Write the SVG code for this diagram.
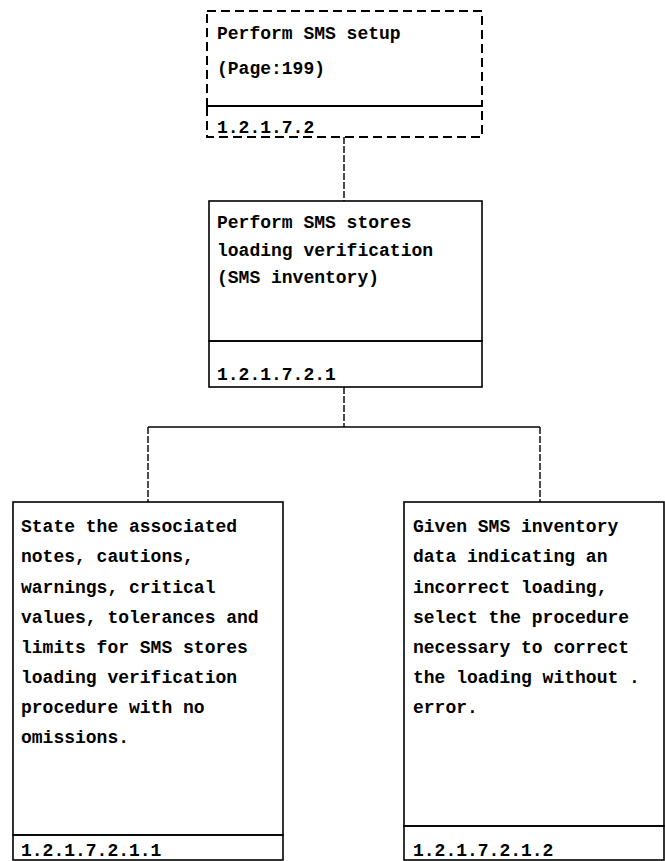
<svg xmlns="http://www.w3.org/2000/svg" width="665" height="861" viewBox="0 0 665 861">
<style>
.bg{fill:#ffffff}
.box{fill:none;stroke:#000;stroke-width:1.6}
.dash{fill:none;stroke:#000;stroke-width:2;stroke-dasharray:9 5}
.conn{fill:none;stroke:#000;stroke-width:1.4}
.vconn{fill:none;stroke:#000;stroke-width:1.4;stroke-dasharray:7 2}
text{font-family:"Liberation Mono","DejaVu Sans Mono",monospace;font-size:18px;font-weight:bold;fill:#000}
</style>
<rect class="bg" x="0" y="0" width="665" height="861"/>
<g id="connectors">
<line class="vconn" x1="344" y1="137" x2="344" y2="201"/>
<line class="vconn" x1="344" y1="387" x2="344" y2="427"/>
<line class="conn" x1="148" y1="427" x2="540" y2="427"/>
<line class="vconn" x1="148" y1="427" x2="148" y2="502"/>
<line class="vconn" x1="540" y1="427" x2="540" y2="502"/>
</g>
<g id="node-1.2.1.7.2">
<rect class="dash" x="207" y="11" width="275" height="95"/>
<rect class="dash" x="207" y="106" width="275" height="31"/>
<text x="217" y="39">Perform SMS setup</text>
<text x="217" y="74">(Page:199)</text>
<text x="217" y="133">1.2.1.7.2</text>
</g>
<g id="node-1.2.1.7.2.1">
<rect class="box" x="209" y="201" width="273" height="140"/>
<rect class="box" x="209" y="341" width="273" height="46"/>
<text x="217" y="228">Perform SMS stores</text>
<text x="217" y="256">loading verification</text>
<text x="217" y="283">(SMS inventory)</text>
<text x="217" y="380">1.2.1.7.2.1</text>
</g>
<g id="node-1.2.1.7.2.1.1">
<rect class="box" x="13" y="502" width="270" height="333"/>
<rect class="box" x="13" y="835" width="270" height="25"/>
<text x="21" y="532">State the associated</text>
<text x="21" y="562">notes, cautions,</text>
<text x="21" y="593">warnings, critical</text>
<text x="21" y="623">values, tolerances and</text>
<text x="21" y="653">limits for SMS stores</text>
<text x="21" y="683">loading verification</text>
<text x="21" y="713">procedure with no</text>
<text x="21" y="743">omissions.</text>
<text x="21" y="856">1.2.1.7.2.1.1</text>
</g>
<g id="node-1.2.1.7.2.1.2">
<rect class="box" x="404" y="502" width="260" height="324"/>
<rect class="box" x="404" y="826" width="260" height="34"/>
<text x="413" y="532">Given SMS inventory</text>
<text x="413" y="562">data indicating an</text>
<text x="413" y="593">incorrect loading,</text>
<text x="413" y="623">select the procedure</text>
<text x="413" y="653">necessary to correct</text>
<text x="413" y="683">the loading without .</text>
<text x="413" y="713">error.</text>
<text x="413" y="856">1.2.1.7.2.1.2</text>
</g>
</svg>
